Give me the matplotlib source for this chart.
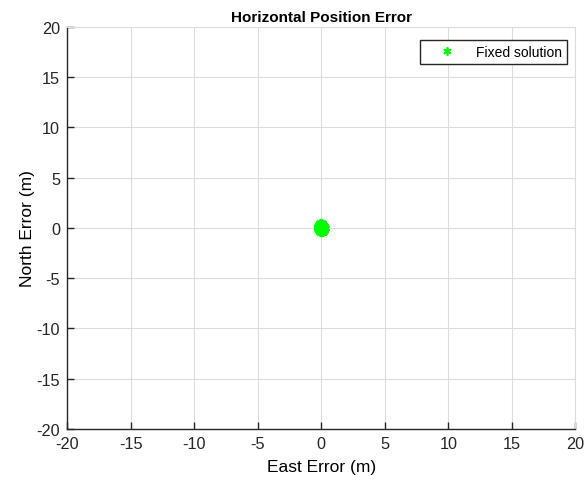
import numpy as np
import matplotlib.pyplot as plt

plt.rcParams['font.family'] = ['Liberation Sans', 'DejaVu Sans']
plt.rcParams['axes.unicode_minus'] = False

# fixed-solution horizontal errors (m), clustered near the origin
east = [-0.15, -0.1, 0.0, 0.1, 0.2, 0.05, -0.05, 0.15, -0.2, 0.0, 0.1, -0.1, 0.05, 0.0]
north = [0.0, 0.3, 0.35, 0.25, 0.0, -0.3, -0.35, -0.2, 0.1, 0.1, -0.05, -0.2, 0.2, -0.1]

ticks = [-20, -15, -10, -5, 0, 5, 10, 15, 20]

fig = plt.figure(figsize=(5.86, 4.81), dpi=100)
ax = fig.add_axes([0.1143, 0.106, 0.8677, 0.836])

ax.plot(east, north, marker=(6, 2, 0), color='#00ff00', markersize=8,
        markeredgewidth=2.5, label='Fixed solution', linestyle='none')

ax.set_xlim(-20, 20)
ax.set_ylim(-20, 20)
ax.set_xticks(ticks)
ax.set_yticks(ticks)
ax.tick_params(direction='in', length=5, width=1, labelsize=11.7, colors='#262626', pad=5)
ax.tick_params(top=False, right=False)
ax.grid(True, color='#dcdcdc', linewidth=0.8)
ax.set_axisbelow(True)
for s in ['top', 'right']:
    ax.spines[s].set_color('#dcdcdc')
    ax.spines[s].set_linewidth(0.8)
for s in ['left', 'bottom']:
    ax.spines[s].set_color('#262626')
    ax.spines[s].set_linewidth(1.0)

ax.set_title('Horizontal Position Error', fontsize=11, fontweight='bold', pad=4)
ax.set_xlabel('East Error (m)', fontsize=12.5, labelpad=6)
ax.set_ylabel('North Error (m)', fontsize=12.5, labelpad=1)

leg = ax.legend(loc='upper right', fontsize=10, fancybox=False, framealpha=1,
                edgecolor='#262626', handlelength=3.2, borderpad=0.35,
                bbox_to_anchor=(0.997, 0.985), numpoints=1, handletextpad=0.5)
leg.get_frame().set_linewidth(1.0)
leg.legend_handles[0].set_markersize(6)
leg.legend_handles[0].set_markeredgewidth(1.2)

plt.savefig('out.png', dpi=100)
